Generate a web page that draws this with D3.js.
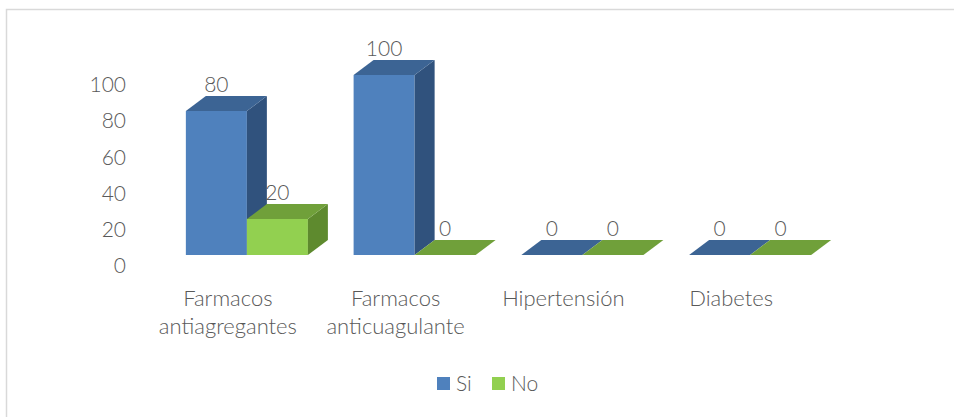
<!DOCTYPE html>
<html>
<head>
<meta charset="utf-8">
<script src="https://cdn.jsdelivr.net/npm/d3@7"></script>
<style>
  body { margin: 0; background: #fff; }
  svg text { font-family: Lato, "Open Sans", sans-serif; font-weight: 300; fill: #595959; }
</style>
</head>
<body>
<div id="chart"></div>
<script>
// Data
const categories = [["Farmacos", "antiagregantes"], ["Farmacos", "anticuagulante"], ["Hipertensión"], ["Diabetes"]];
const series = ["Si", "No"];
const siValues = [80, 100, 0, 0];
const noValues = [20, 0, 0, 0];
const yTicks = [0, 20, 40, 60, 80, 100];

const colors = {
    Si: { front: "#4f81bd", top: "#3c6494", side: "#30527d" },
    No: { front: "#92d050", top: "#70a03a", side: "#5e8a2e" }
};

const W = 954, H = 417;
const depth = { dx: 20, dy: -15 };
const fontSize = "21px";

const svg = d3.select("#chart").append("svg")
    .attr("width", W)
    .attr("height", H);

// outer frame (top + left edges visible)
svg.append("rect")
    .attr("x", 6.5).attr("y", 9.5)
    .attr("width", W + 10).attr("height", H + 10)
    .attr("fill", "none").attr("stroke", "#d9d9d9").attr("stroke-width", 1.5);

const catKeys = categories.map(c => c.join(" "));

const yScale = d3.scaleLinear().domain([0, 100]).range([255, 75]);
// axis labels sit a little lower (3D floor edge)
const yAxisScale = d3.scaleLinear().domain([0, 100]).range([266, 85]);

const xScale = d3.scaleBand().domain(catKeys).range([163, 834])
    .paddingInner(0.2725).paddingOuter(0.13625);
const xInner = d3.scaleBand().domain(series).range([0, xScale.bandwidth()]);

// y axis
const yAxis = svg.append("g")
    .attr("transform", "translate(126,0)")
    .call(d3.axisLeft(yAxisScale).tickValues(yTicks).tickSize(0).tickPadding(0));
yAxis.select(".domain").remove();
yAxis.selectAll("text")
    .style("font-family", "Lato, 'Open Sans', sans-serif")
    .style("font-weight", 300)
    .style("font-size", fontSize)
    .attr("fill", "#595959");

// bars
const barData = [];
catKeys.forEach((c, i) => {
    barData.push({ cat: c, s: "Si", v: siValues[i] });
    barData.push({ cat: c, s: "No", v: noValues[i] });
});

const bars = svg.append("g");
barData.forEach(d => {
    const x = xScale(d.cat) + xInner(d.s);
    const w = xInner.bandwidth();
    const yv = yScale(d.v), y0 = yScale(0);
    const g = bars.append("g");
    const col = colors[d.s];
    if (d.v > 0) {
        g.append("rect").attr("x", x).attr("y", yv).attr("width", w).attr("height", y0 - yv)
            .attr("fill", col.front);
        g.append("path")
            .attr("d", `M${x + w},${yv}L${x + w + depth.dx},${yv + depth.dy}L${x + w + depth.dx},${y0 + depth.dy}L${x + w},${y0}Z`)
            .attr("fill", col.side);
    }
    g.append("path")
        .attr("d", `M${x},${yv}L${x + depth.dx},${yv + depth.dy}L${x + w + depth.dx},${yv + depth.dy}L${x + w},${yv}Z`)
        .attr("fill", col.top);
    g.append("text")
        .attr("x", x + w / 2)
        .attr("y", yv + depth.dy - 4)
        .attr("text-anchor", "middle")
        .style("font-size", fontSize)
        .text(d.v);
});

// category labels
const catG = svg.append("g");
categories.forEach((lines, i) => {
    const cx = xScale(catKeys[i]) + xScale.bandwidth() / 2 - 19;
    const t = catG.append("text")
        .attr("text-anchor", "middle")
        .style("font-size", "22px");
    lines.forEach((ln, j) => {
        t.append("tspan").attr("x", cx).attr("y", 306 + j * 28).text(ln);
    });
});

// legend
const legend = svg.append("g");
const legendX = [437, 492];
series.forEach((s, i) => {
    legend.append("rect").attr("x", legendX[i]).attr("y", 377)
        .attr("width", 13).attr("height", 13).attr("fill", colors[s].front);
    legend.append("text").attr("x", legendX[i] + 19).attr("y", 391)
        .style("font-size", fontSize).text(s);
});
</script>
</body>
</html>
